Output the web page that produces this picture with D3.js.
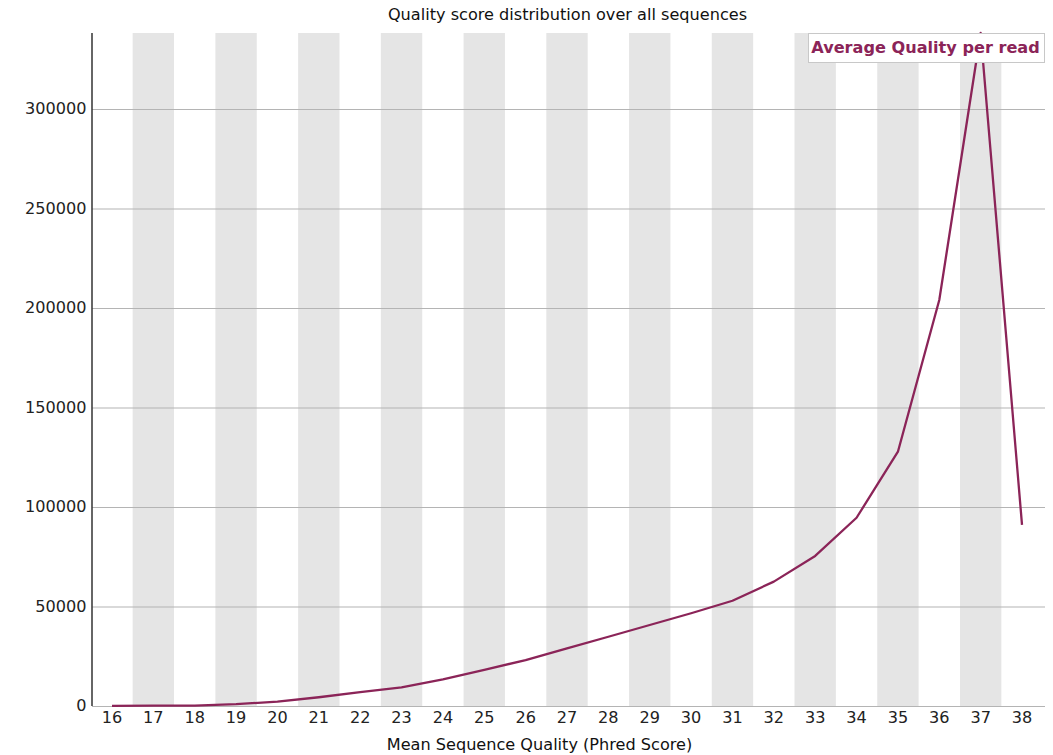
<!DOCTYPE html>
<html>
<head>
<meta charset="utf-8">
<script src="https://cdn.jsdelivr.net/npm/d3@7"></script>
<style>
  html, body { margin: 0; padding: 0; background: #fff; }
  svg { display: block; font-family: "DejaVu Sans", sans-serif; }
</style>
</head>
<body>
<svg id="chart" width="1053" height="755"></svg>
<script>
// Mean per-read quality (Phred) and the number of reads at each score
const qualityScores = [16, 17, 18, 19, 20, 21, 22, 23, 24, 25, 26, 27, 28, 29, 30, 31, 32, 33, 34, 35, 36, 37, 38];
const readCounts = [100, 150, 150, 900, 2200, 4400, 7000, 9400, 13400, 18100, 23100, 29000, 34800, 40700, 46600, 52900, 62500, 75400, 94600, 127800, 204000, 338200, 91000];
const yTicks = [0, 50000, 100000, 150000, 200000, 250000, 300000];
const chartTitle = "Quality score distribution over all sequences";
const xAxisTitle = "Mean Sequence Quality (Phred Score)";
const seriesName = "Average Quality per read";

const svg = d3.select("#chart");
const plot = { left: 92, right: 1045, top: 33, bottom: 706 };
const lineColor = "#8b2458";
const textStretch = 1.075; // glyphs are slightly wider than tall

const x = d3.scaleBand()
  .domain(qualityScores)
  .range([91.3, 1042.7])
  .paddingInner(0)
  .paddingOuter(0);

const y = d3.scaleLinear()
  .domain([0, d3.max(readCounts)])
  .range([plot.bottom, plot.top]);

// alternating background stripes
svg.append("g")
  .selectAll("rect")
  .data(qualityScores.filter((d, i) => i % 2 === 1))
  .join("rect")
  .attr("x", d => x(d))
  .attr("y", plot.top)
  .attr("width", x.bandwidth())
  .attr("height", plot.bottom - plot.top)
  .attr("fill", "#e5e5e5");

// horizontal grid lines and y tick labels
const yAxis = d3.axisLeft(y)
  .tickValues(yTicks)
  .tickSize(0)
  .tickPadding(5)
  .tickFormat(d3.format("d"));

const yg = svg.append("g")
  .attr("transform", `translate(${plot.left},0)`)
  .call(yAxis);
yg.select(".domain").remove();
yg.selectAll(".tick line")
  .attr("x2", plot.right - plot.left)
  .attr("stroke", "#b4b4b4")
  .attr("stroke-width", 1.2);
yg.selectAll(".tick text")
  .attr("font-size", 15)
  .attr("fill", "#222")
  .attr("font-family", "DejaVu Sans, sans-serif")
  .attr("transform", `scale(${textStretch},1)`);

// x tick labels
const xAxis = d3.axisBottom(x).tickSize(0).tickPadding(6);
const xg = svg.append("g")
  .attr("transform", `translate(0,${plot.bottom})`)
  .call(xAxis);
xg.select(".domain").remove();
xg.selectAll(".tick text")
  .attr("font-size", 15)
  .attr("fill", "#222")
  .attr("font-family", "DejaVu Sans, sans-serif")
  .attr("transform", `scale(${textStretch},1)`);

// y axis line
svg.append("line")
  .attr("x1", plot.left).attr("x2", plot.left)
  .attr("y1", plot.top).attr("y2", plot.bottom)
  .attr("stroke", "#333")
  .attr("stroke-width", 1.5);

// the distribution line
const line = d3.line()
  .x((d, i) => x(qualityScores[i]) + x.bandwidth() / 2)
  .y(d => y(d));

svg.append("path")
  .datum(readCounts)
  .attr("d", line)
  .attr("fill", "none")
  .attr("stroke", lineColor)
  .attr("stroke-width", 2.3)
  .attr("stroke-linejoin", "round");

// title
svg.append("text")
  .attr("transform", `translate(${(plot.left + plot.right) / 2 - 1},20) scale(${textStretch},1)`)
  .attr("text-anchor", "middle")
  .attr("font-size", 15)
  .attr("fill", "#111")
  .text(chartTitle);

// x axis title
svg.append("text")
  .attr("transform", `translate(${(plot.left + plot.right) / 2 - 29},750) scale(${textStretch},1)`)
  .attr("text-anchor", "middle")
  .attr("font-size", 15)
  .attr("fill", "#111")
  .text(xAxisTitle);

// legend
const legend = svg.append("g");
legend.append("rect")
  .attr("x", 808.5).attr("y", 33.5)
  .attr("width", 236).attr("height", 29)
  .attr("fill", "#fff")
  .attr("stroke", "#c8c8c8");
legend.append("text")
  .attr("transform", `translate(925.5,53) scale(${textStretch},1)`)
  .attr("text-anchor", "middle")
  .attr("font-size", 15)
  .attr("font-weight", "bold")
  .attr("fill", lineColor)
  .text(seriesName);
</script>
</body>
</html>
